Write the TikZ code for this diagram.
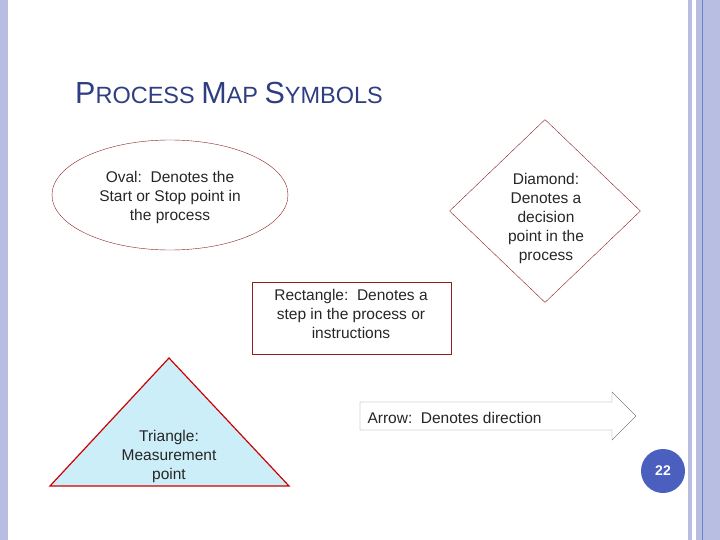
\documentclass[tikz,border=0pt]{standalone}
\usepackage{fontspec}
\setmainfont{Liberation Sans}
\usetikzlibrary{shapes.geometric,shapes.arrows}
\definecolor{mred}{RGB}{140,30,30}
\definecolor{lav}{RGB}{184,190,226}
\definecolor{mblue}{RGB}{46,62,128}
\definecolor{mcyan}{RGB}{204,238,248}
\definecolor{pblue}{RGB}{74,95,190}
\tikzset{
  symtext/.style={font=\fontsize{15.5}{19}\selectfont, align=center, text=black!85},
}
\begin{document}
\begin{tikzpicture}[x=1pt,y=-1pt]
    \useasboundingbox (0,0) rectangle (720,540);
    % borders
    \fill[lav] (0,0) rectangle (8,540);
    \fill[lav] (688,0) rectangle (692,540);
    \fill[lav] (696,0) rectangle (720,540);
    \draw[pblue!80, line width=0.8] (702,0) -- (702,540);
    \node[text=mblue, anchor=base west, inner sep=0] (title) at (75,104) {\fontsize{30.5}{32}\selectfont P\fontsize{23.5}{26}\selectfont ROCESS \fontsize{30.5}{32}\selectfont M\fontsize{23.5}{26}\selectfont AP \fontsize{30.5}{32}\selectfont S\fontsize{23.5}{26}\selectfont YMBOLS};

    \node[ellipse, draw=mred, minimum width=236, minimum height=110] (oval) at (170,195) {};
    \node[symtext] (ovaltext) at (170,197) {Oval:\ \ Denotes the\\Start or Stop point in\\the process};

    \node[diamond, draw=mred, minimum width=191, minimum height=183] (diam) at (545,211) {};
    \node[symtext] (diamtext) at (546,218) {Diamond:\\Denotes a\\decision\\point in the\\process};

    \node[rectangle, draw=mred, minimum width=199, minimum height=72] (rect) at (351.5,318) {};
    \node[symtext] (recttext) at (351,314) {Rectangle:\ \ Denotes a\\step in the process or\\instructions};

    \filldraw[fill=mcyan, draw=red!80!black, line width=1.2] (169,358) -- (289,486) -- (50,486) -- cycle;
    \node[symtext] (tritext) at (169,456) {Triangle:\\Measurement\\point};

    \draw[gray] (360,402) -- (612,402) -- (612,392) -- (636,416) -- (612,440) -- (612,430) -- (360,430) -- cycle;
    \node[symtext, anchor=west] (arrowtext) at (364,418) {Arrow:\ \ Denotes direction};

    \node[circle, fill=pblue, minimum size=44, text=white, font=\bfseries\fontsize{14}{15}\selectfont] (pagenum) at (663,471) {22};
\end{tikzpicture}
\end{document}
